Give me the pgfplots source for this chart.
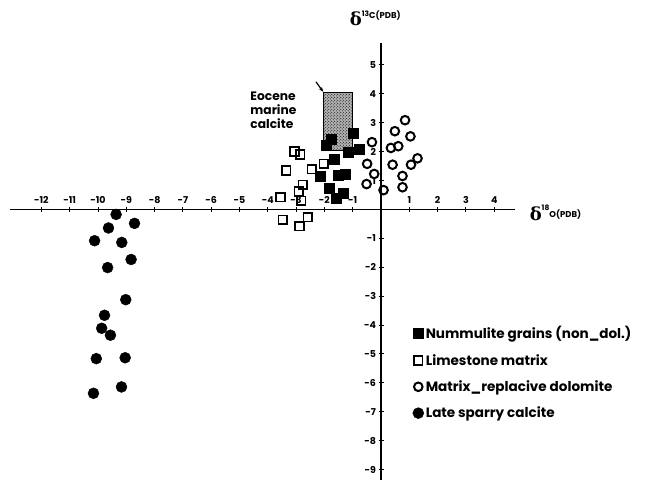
\documentclass[border=0pt]{standalone}
\usepackage{fontspec}
\setmainfont{Poppins}
\newfontfamily\dv{DejaVu Serif}
\usepackage{pgfplots}
\pgfplotsset{compat=1.18}
\usetikzlibrary{patterns,arrows.meta}
\begin{document}
\begin{tikzpicture}
\begin{axis}[
  x=28.3bp, y=28.9bp,
  axis lines=middle,
  axis line style={-, line width=1.8bp},
  xmin=-13.11, xmax=4.74, ymin=-9.35, ymax=5.76,
  xtick={-12,-11,-10,-9,-8,-7,-6,-5,-4,-3,-2,-1,1,2,3,4},
  ytick={-9,-8,-7,-6,-5,-4,-3,-2,-1,1,2,3,4,5},
  /pgf/number format/assume math mode=true,
  tick label style={font=\bfseries\fontsize{9.5}{10}\selectfont},
  xticklabel style={anchor=south, yshift=5bp},
  yticklabel style={xshift=1bp},
  major tick length=5bp,
  tick style={black, line width=1bp},
  clip=false,
  legend style={at={(0.797,0.356)}, anchor=north west, draw=none, fill=none,
    font=\bfseries\fontsize{13.6}{15}\selectfont, row sep=10bp, inner sep=0pt,
    /tikz/every even column/.style={column sep=2bp}},
  legend cell align=left,
  legend image code/.code={\draw plot coordinates {(5bp,0bp)};},
]
\addplot[forget plot, draw=none, fill=black!30]
  coordinates {(-2.03,2.05) (-1.02,2.05) (-1.02,4.05) (-2.03,4.05)} --cycle;
\addplot[forget plot, draw=black, line width=1.2bp, pattern=crosshatch dots, pattern color=black]
  coordinates {(-2.03,2.05) (-1.02,2.05) (-1.02,4.05) (-2.03,4.05)} --cycle;

\addplot[only marks, mark=square*, mark size=5bp, black] coordinates {
(-1.00,2.65) (-1.76,2.42) (-1.94,2.21) (-1.15,1.98) (-0.76,2.07) (-1.65,1.74)
(-2.14,1.16) (-1.53,1.20) (-1.27,1.23) (-1.82,0.73) (-1.59,0.38) (-1.32,0.58)
};
\addlegendentry{Nummulite grains (non\_dol.)}

\addplot[only marks, mark=square, mark size=4.3bp, black, mark options={line width=1.6bp, fill=white}] coordinates {
(-3.06,2.01) (-2.85,1.90) (-3.35,1.35) (-2.45,1.40) (-2.02,1.58) (-2.76,0.85)
(-2.91,0.62) (-2.82,0.30) (-3.55,0.42) (-3.47,-0.35) (-2.59,-0.26) (-2.88,-0.58)
};
\addlegendentry{Limestone matrix}

\addplot[only marks, mark=o, mark size=4.3bp, black, mark options={line width=2bp}] coordinates {
(0.85,3.09) (0.49,2.71) (1.04,2.53) (-0.32,2.33) (0.35,2.13) (0.61,2.19)
(1.29,1.77) (1.06,1.55) (0.41,1.55) (-0.49,1.58) (-0.24,1.23) (0.76,1.16)
(-0.51,0.88) (0.76,0.77) (0.09,0.67)
};
\addlegendentry{Matrix\_replacive dolomite}

\addplot[only marks, mark=*, mark size=5.5bp, black] coordinates {
(-9.36,-0.17) (-8.71,-0.48) (-9.63,-0.64) (-10.12,-1.08) (-9.16,-1.14)
(-8.83,-1.73) (-9.66,-2.01) (-9.02,-3.12) (-9.77,-3.66) (-9.87,-4.11)
(-9.56,-4.35) (-10.06,-5.16) (-9.04,-5.13) (-9.17,-6.14) (-10.16,-6.36)
};
\addlegendentry{Late sparry calcite}

\node[anchor=center, inner sep=0pt] at (axis cs:-0.2,6.62)
  {{\dv\bfseries\fontsize{18}{18}\selectfont δ}\raisebox{1.7ex}{\bfseries\fontsize{7.5}{8}\selectfont 13}\raisebox{1.2ex}{\bfseries\fontsize{8.5}{9}\selectfont C(PDB)}};
\node[anchor=west, inner sep=0pt] at (axis cs:5.25,-0.12)
  {{\dv\bfseries\fontsize{18}{18}\selectfont δ}\raisebox{1.7ex}{\bfseries\fontsize{7.5}{8}\selectfont 18}\raisebox{0.5ex}{\bfseries\fontsize{8.5}{9}\selectfont O(PDB)}};
\node[anchor=west, align=left, inner sep=0pt, font=\bfseries\fontsize{12.3}{14}\selectfont]
  at (axis cs:-4.62,3.44) {Eocene\\marine\\calcite};
\draw[-{Stealth[length=5bp]}, line width=1.2bp] (axis cs:-2.3,4.42) -- (axis cs:-2.04,4.07);
\coordinate (O) at (axis cs:0,0);
\end{axis}
\pgfresetboundingbox
\path[use as bounding box] (O) ++(-381bp,209.5bp) rectangle ++(650bp,-483bp);
\end{tikzpicture}
\end{document}
